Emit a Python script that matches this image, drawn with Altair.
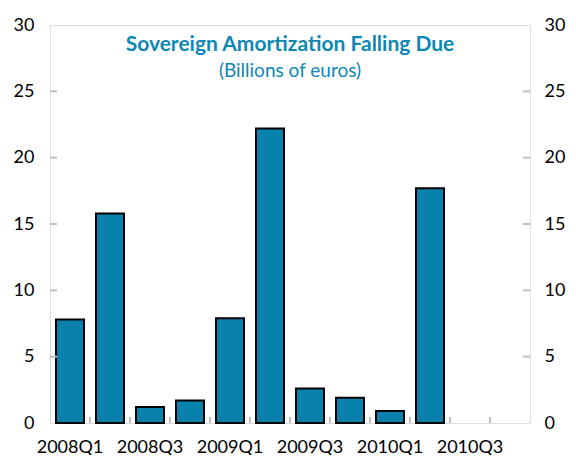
import altair as alt
import pandas as pd

quarters = ["2008Q1", "2008Q2", "2008Q3", "2008Q4",
            "2009Q1", "2009Q2", "2009Q3", "2009Q4",
            "2010Q1", "2010Q2", "2010Q3", "2010Q4"]
amort = [7.8, 15.8, 1.2, 1.7, 7.9, 22.2, 2.6, 1.9, 0.9, 17.7, None, None]
label_quarters = ["2008Q1", "2008Q3", "2009Q1", "2009Q3", "2010Q1", "2010Q3"]
y_ticks = [0, 5, 10, 15, 20, 25, 30]
title_text = "Sovereign Amortization Falling Due"
subtitle_text = "(Billions of euros)"

FONT = "Lato"
BAR = "#0a80ad"
TEAL = "#0e87b5"
GRID = "#bfbfbf"
W, H = 480, 398

df = pd.DataFrame({"q": quarters, "v": amort})
ticks_df = pd.DataFrame({"q": quarters[1:]})
yt_df = pd.DataFrame({"y": y_ticks[1:-1]})

xscale = alt.Scale(domain=quarters, paddingInner=0, paddingOuter=0)
yscale = alt.Scale(domain=[0, 30], nice=False)

bars = alt.Chart(df).mark_bar(size=28, color=BAR, stroke="black", strokeWidth=2).encode(
    x=alt.X("q:N", scale=xscale, sort=quarters,
            axis=alt.Axis(title=None, values=label_quarters, labelAngle=0, tickSize=0,
                          domain=False, labelPadding=15, labelFont=FONT,
                          labelFontSize=18, labelColor="black")),
    y=alt.Y("v:Q", scale=yscale,
            axis=alt.Axis(title=None, orient="left", values=y_ticks, tickSize=0,
                          domain=False, grid=False,
                          labelPadding=16, labelFont=FONT, labelFontSize=18,
                          labelColor="black")),
)

right_axis = alt.Chart(df).mark_bar(opacity=0).encode(
    x=alt.X("q:N", scale=xscale, sort=quarters),
    y=alt.Y("v:Q", scale=yscale,
            axis=alt.Axis(title=None, orient="right", values=y_ticks, tickSize=0,
                          domain=False, grid=False, labelPadding=14, labelFont=FONT,
                          labelFontSize=18, labelColor="black")),
)

xticks = alt.Chart(ticks_df).mark_rule(color=GRID, strokeWidth=2).encode(
    x=alt.X("q:N", scale=xscale, sort=quarters, bandPosition=0),
    y=alt.value(H),
    y2=alt.value(H - 6),
)

yticks_left = alt.Chart(yt_df).mark_rule(color=GRID, strokeWidth=2).encode(
    y=alt.Y("y:Q", scale=yscale, axis=None),
    x=alt.value(0),
    x2=alt.value(7),
)
yticks_right = alt.Chart(yt_df).mark_rule(color=GRID, strokeWidth=2).encode(
    y=alt.Y("y:Q", scale=yscale, axis=None),
    x=alt.value(W - 7),
    x2=alt.value(W),
)

title = alt.Chart(pd.DataFrame({"t": [title_text]})).mark_text(
    font=FONT, fontSize=21, fontWeight="bold", color=TEAL, align="center",
    baseline="alphabetic").encode(
    x=alt.value(W / 2), y=alt.value(26), text="t:N")
subtitle = alt.Chart(pd.DataFrame({"t": [subtitle_text]})).mark_text(
    font=FONT, fontSize=19, color=TEAL, align="center", baseline="alphabetic").encode(
    x=alt.value(W / 2), y=alt.value(52), text="t:N")

chart = alt.layer(bars, right_axis, xticks, yticks_left, yticks_right, title, subtitle).resolve_scale(
    y="independent"
).properties(
    width=W, height=H,
    padding={"left": 42, "top": 17, "right": 38, "bottom": 32},
    autosize="none",
).configure_view(stroke=GRID, strokeWidth=2).configure(background="white")

chart.save("out.html", embed_options={"renderer": "svg", "actions": False})
